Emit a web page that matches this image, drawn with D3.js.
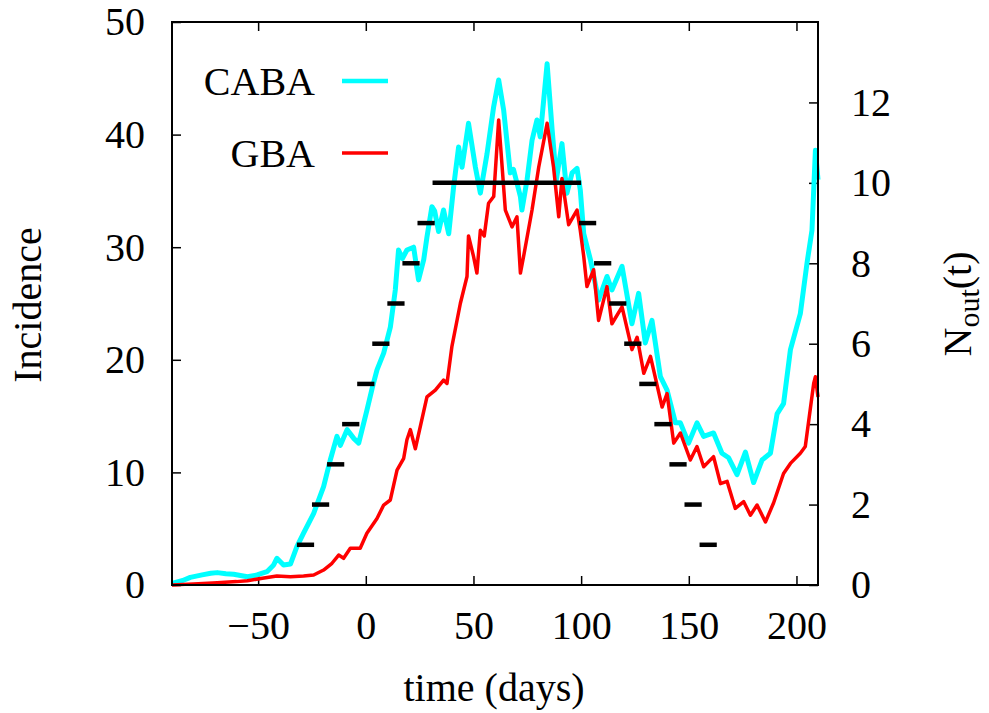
<!DOCTYPE html>
<html>
<head>
<meta charset="utf-8">
<script src="https://cdn.jsdelivr.net/npm/d3@7"></script>
<style>
  body { margin: 0; background: #fff; }
  text { font-family: "Liberation Serif", "Times New Roman", serif; }
</style>
</head>
<body>
<div id="chart"></div>
<script>
// CABA incidence (time in days, value)
var cabaT = [-90, -85, -81.5, -76, -72, -69, -65, -61.4, -55, -50.5, -45.9, -42.8, -41.3, -38.2, -35, -32, -28.9, -24.2, -19.6, -16.5,
  -13.4, -11.8, -8.7, -5.5, -3.3, 0.5, 3, 5.2, 8.3, 11.4, 13.7, 15.2, 17, 19.1, 22.2, 24.5, 26.9, 28.4, 30.7, 32,
  33.8, 36.1, 38.5, 40.8, 43.1, 44.7, 47.7, 50.9, 53.2, 56.3, 59.4, 61.7, 64, 67.1, 68.6, 71.8, 72.5, 74.9, 77.2, 79.5,
  81, 84.2, 86.5, 88.5, 91.1, 93.4, 95.8, 98.1, 99.6, 101.2, 104.3, 108.1, 112, 114.3, 119, 123.6, 126.7, 129.8, 132.9, 136.8,
  139.9, 143.8, 146.1, 149.9, 153.8, 156.9, 161.5, 165.4, 168.5, 172.4, 176.3, 180.1, 184, 187.9, 191, 194, 197.2, 201.8, 204.9, 207.2,
  208.8, 210];
var cabaV = [0.15, 0.4, 0.68, 0.9, 1.04, 1.1, 1.0, 0.95, 0.74, 0.89, 1.18, 1.78, 2.37, 1.78, 1.86, 3.4, 4.6, 6.37, 8.73, 11.1,
  13.2, 12.4, 13.8, 13.0, 12.6, 15.5, 17.5, 19.1, 20.6, 22.9, 26.2, 29.75, 29.0, 29.75, 30.0, 27.1, 28.9, 30.9, 33.6, 33.2,
  31.4, 33.3, 31.2, 35.4, 38.9, 37.1, 41, 37.1, 34.8, 38.3, 42.5, 44.85, 42.2, 36.6, 36.9, 34.5, 33.3, 36, 39.5, 41.3,
  39.8, 46.3, 40.5, 36, 39.2, 34.8, 36.6, 37, 35.1, 31.2, 28.9, 25.3, 27.4, 26.2, 28.3, 23.2, 25.9, 21.5, 23.5, 18.5,
  17.3, 14.4, 14.4, 12.6, 14.4, 13.2, 13.5, 11.7, 11.3, 9.8, 11.8, 9.1, 11.1, 11.7, 15.2, 16.1, 20.9, 24.1, 28.6, 31.5,
  38.6, 36];

// GBA incidence
var gbaT = [-90, -80, -69, -60, -55, -48, -41.3, -35, -28.9, -24.2, -19.6, -15.7, -12.6, -10.3, -7.2, -2.6, 0.5, 5.2, 8.3, 11.4,
  14.5, 17.6, 19.1, 20.7, 23, 28.4, 32.3, 36.1, 37.7, 40, 43.9, 47, 47.7, 50, 51.6, 53.2, 55, 57, 59.4, 61.7,
  64.8, 67.9, 70.2, 71.8, 73.3, 77.2, 80.3, 84.2, 87.2, 89.6, 91.1, 94.2, 98.1, 99.6, 101.2, 102.7, 105.8, 108.1, 112, 114.3,
  119, 123.6, 126, 129.1, 132.2, 137.6, 139.9, 143, 146.1, 150.7, 153.8, 156.9, 161.5, 164.7, 167.8, 171.6, 175.5, 178.6, 181.7, 185.6,
  189.4, 194, 197.2, 201.8, 204.1, 208, 208.8, 210];
var gbaV = [0, 0.1, 0.2, 0.3, 0.38, 0.6, 0.8, 0.74, 0.8, 0.89, 1.33, 1.93, 2.66, 2.37, 3.26, 3.26, 4.6, 5.9, 7.1, 7.55,
  10.2, 11.25, 12.9, 13.8, 12.1, 16.7, 17.3, 18.2, 17.9, 21.2, 25, 27.4, 31, 29.2, 27.7, 31.5, 31, 33.9, 34.5, 41.3,
  33.3, 31.8, 32.7, 27.7, 29.2, 33.3, 37.1, 41, 37.1, 32.7, 36.1, 32, 33.3, 31.5, 29.2, 26.5, 28, 23.5, 26.5, 23.2,
  24.7, 20.9, 22, 18.8, 20.3, 15.8, 17, 12.6, 13.5, 11.1, 12.3, 10.5, 11.4, 9.0, 9.2, 6.8, 7.4, 6.2, 7.1, 5.6,
  7.3, 9.9, 10.8, 11.7, 12.3, 17.9, 18.5, 16.7];

// N_out(t) step segments (right axis)
var nOutLevel = [1, 2, 3, 4, 5, 6, 7, 8, 9, 10, 9, 8, 7, 6, 5, 4, 3, 2, 1];
var nOutStart = [-32, -25, -18, -11, -4, 3, 10, 17, 24, 31, 99, 106, 113, 120, 127, 134, 141, 148, 155];
var nOutEnd = [-24, -17, -10, -3, 4, 11, 18, 25, 32, 100, 107, 114, 121, 128, 135, 142, 149, 156, 163];

var xTicks = [-50, 0, 50, 100, 150, 200];
var yTicks = [0, 10, 20, 30, 40, 50];
var y2Ticks = [0, 2, 4, 6, 8, 10, 12];

var legendNames = ["CABA", "GBA"];
var legendColors = ["#00ffff", "#ff0000"];

var W = 989, H = 713;
// plot box (don't use "top" as a global name, it's window.top)
var pLeft = 172, pRight = 818, pTop = 22, pBottom = 585;
var FS = 40;

var svg = d3.select("#chart").append("svg")
  .attr("width", W)
  .attr("height", H);

var x = d3.scaleLinear().domain([-90, 210]).range([pLeft, pRight]);
var y = d3.scaleLinear().domain([0, 50]).range([pBottom, pTop]);
var y2 = d3.scaleLinear().domain([0, 14]).range([pBottom, pTop]);

// axes (ticks point inward like gnuplot)
function styleAxis(g) {
  g.select(".domain").remove();
  g.selectAll(".tick line").attr("stroke", "#000").attr("stroke-width", 1.5);
  g.selectAll(".tick text").attr("font-size", FS).attr("fill", "#000")
    .style("font-family", "'Liberation Serif', 'Times New Roman', serif");
}

svg.append("g")
  .attr("transform", "translate(0," + pBottom + ")")
  .call(d3.axisBottom(x).tickValues(xTicks).tickSizeInner(-9).tickSizeOuter(0).tickPadding(26))
  .call(styleAxis);

svg.append("g")
  .attr("transform", "translate(0," + pTop + ")")
  .call(d3.axisTop(x).tickValues(xTicks).tickFormat("").tickSizeInner(-9).tickSizeOuter(0))
  .call(styleAxis);

svg.append("g")
  .attr("transform", "translate(" + pLeft + ",0)")
  .call(d3.axisLeft(y).tickValues(yTicks).tickSizeInner(-9).tickSizeOuter(0).tickPadding(27))
  .call(styleAxis);

svg.append("g")
  .attr("transform", "translate(" + pRight + ",0)")
  .call(d3.axisRight(y2).tickValues(y2Ticks).tickSizeInner(-9).tickSizeOuter(0).tickPadding(33))
  .call(styleAxis);

// curves
var line = d3.line()
  .x(function(d) { return x(d[0]); })
  .y(function(d) { return y(d[1]); });

svg.append("path")
  .datum(d3.zip(cabaT, cabaV))
  .attr("fill", "none")
  .attr("stroke", legendColors[0])
  .attr("stroke-width", 5)
  .attr("stroke-linejoin", "round")
  .attr("d", line);

svg.append("path")
  .datum(d3.zip(gbaT, gbaV))
  .attr("fill", "none")
  .attr("stroke", legendColors[1])
  .attr("stroke-width", 3.5)
  .attr("stroke-linejoin", "round")
  .attr("d", line);

// N_out bars
svg.append("g").selectAll("line")
  .data(d3.range(nOutLevel.length))
  .enter().append("line")
  .attr("x1", function(i) { return x(nOutStart[i]); })
  .attr("x2", function(i) { return x(nOutEnd[i]); })
  .attr("y1", function(i) { return y2(nOutLevel[i]); })
  .attr("y2", function(i) { return y2(nOutLevel[i]); })
  .attr("stroke", "#000")
  .attr("stroke-width", 4.5);

// frame
svg.append("rect")
  .attr("x", pLeft).attr("y", pTop)
  .attr("width", pRight - pLeft).attr("height", pBottom - pTop)
  .attr("fill", "none")
  .attr("stroke", "#000")
  .attr("stroke-width", 2);

// legend
var leg = svg.append("g").selectAll("g")
  .data(legendNames)
  .enter().append("g")
  .attr("transform", function(d, i) { return "translate(0," + (81 + i * 72) + ")"; });
leg.append("text")
  .attr("x", 315).attr("y", 14)
  .attr("text-anchor", "end")
  .attr("font-size", FS)
  .text(function(d) { return d; });
leg.append("line")
  .attr("x1", 342).attr("x2", 388)
  .attr("stroke", function(d, i) { return legendColors[i]; })
  .attr("stroke-width", function(d, i) { return i == 0 ? 4.5 : 3.5; });

// axis labels
svg.append("text")
  .attr("transform", "translate(41,305) rotate(-90)")
  .attr("text-anchor", "middle")
  .attr("font-size", FS)
  .text("Incidence");

svg.append("text")
  .attr("x", 494).attr("y", 701)
  .attr("text-anchor", "middle")
  .attr("font-size", FS)
  .text("time (days)");

var nl = svg.append("text")
  .attr("transform", "translate(971,304) rotate(-90)")
  .attr("text-anchor", "middle")
  .attr("font-size", FS);
nl.append("tspan").text("N");
nl.append("tspan").attr("font-size", FS * 0.75).attr("dy", 8).text("out");
nl.append("tspan").attr("dy", -8).text("(t)");
</script>
</body>
</html>
